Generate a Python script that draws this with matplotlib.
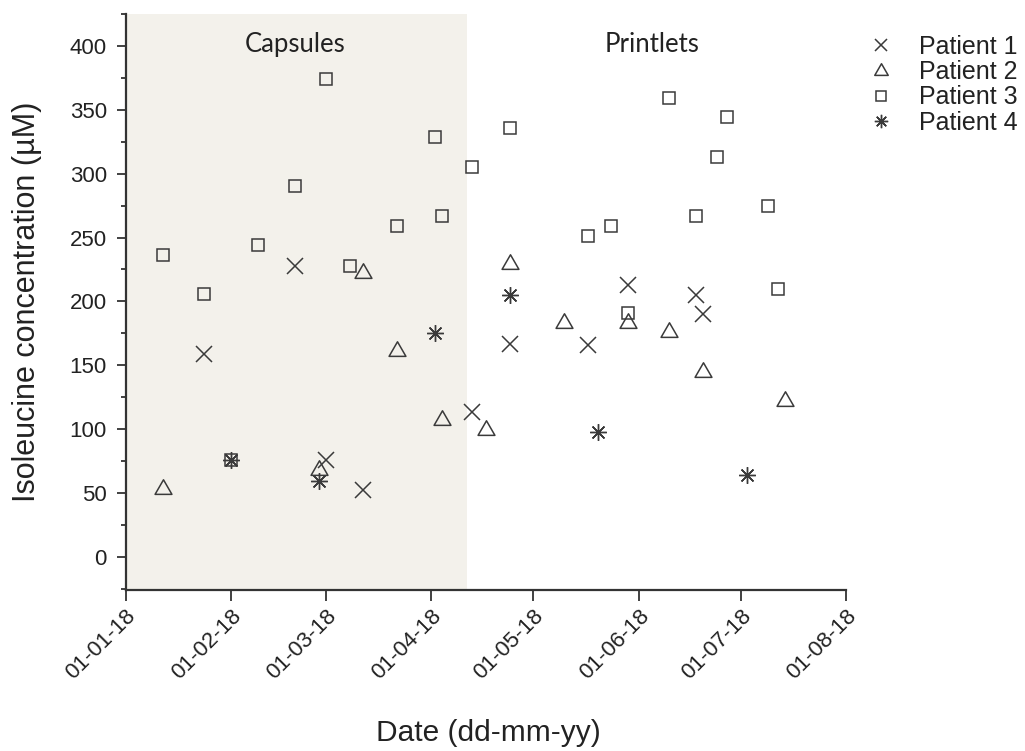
import matplotlib
matplotlib.use("Agg")
import matplotlib.pyplot as plt
import matplotlib.dates as mdates
from matplotlib.ticker import MultipleLocator
from matplotlib.path import Path
import pandas as pd

# ---------------- data ----------------
p1_dates = ["2018-01-24", "2018-02-20", "2018-03-01", "2018-03-12", "2018-04-13",
            "2018-04-24", "2018-05-17", "2018-05-29", "2018-06-18", "2018-06-20"]
p1_vals = [159, 228, 76, 52, 113, 167, 166, 213, 205, 190]

p2_dates = ["2018-01-12", "2018-02-27", "2018-03-12", "2018-03-22", "2018-04-04",
            "2018-04-17", "2018-04-24", "2018-05-10", "2018-05-29", "2018-06-10",
            "2018-06-20", "2018-07-14"]
p2_vals = [53, 68, 222, 161, 107, 99, 229, 183, 183, 176, 145, 122]

p3_dates = ["2018-01-12", "2018-01-24", "2018-02-01", "2018-02-09", "2018-02-20",
            "2018-03-01", "2018-03-08", "2018-03-22", "2018-04-02", "2018-04-04",
            "2018-04-13", "2018-04-24", "2018-05-17", "2018-05-24", "2018-05-29",
            "2018-06-10", "2018-06-18", "2018-06-24", "2018-06-27", "2018-07-09",
            "2018-07-12"]
p3_vals = [236, 206, 76, 244, 290, 374, 228, 259, 329, 267, 305, 336, 251, 259,
           191, 359, 267, 313, 344, 275, 210]

p4_dates = ["2018-02-01", "2018-02-27", "2018-04-02", "2018-04-24", "2018-05-20",
            "2018-07-03"]
p4_vals = [76, 59, 175, 205, 98, 64]

series_labels = ["Patient 1", "Patient 2", "Patient 3", "Patient 4"]
period_labels = ["Capsules", "Printlets"]
period_split = "2018-04-11 12:00"
x_start, x_end = "2018-01-01", "2018-08-01"
x_label = "Date (dd-mm-yy)"
y_label = "Isoleucine concentration (\u00b5M)"

# ---------------- figure ----------------
plt.rcParams['font.family'] = ['Liberation Sans', 'DejaVu Sans']
fig = plt.figure(figsize=(10.25, 7.51), dpi=100)
ax = fig.add_axes([125.5 / 1025, 1 - 590 / 751, (846 - 125.5) / 1025, (590 - 14) / 751])

ink = '#3a3a3a'
tri_v = [(0, 0.577), (-0.5, -0.289), (0.5, -0.289), (0, 0.577)]
tri = Path(tri_v, closed=True)
styles = [
    dict(marker='x', ms=11, mew=1.1),
    dict(marker=tri, ms=14, mew=1.1),
    dict(marker='s', ms=9.3, mew=1.1),
    dict(marker=(8, 2, 0), ms=12, mew=1.0),
]
all_dates = [p1_dates, p2_dates, p3_dates, p4_dates]
all_vals = [p1_vals, p2_vals, p3_vals, p4_vals]

ax.axvspan(pd.Timestamp(x_start), pd.Timestamp(period_split), color='#f3f1eb', zorder=0, lw=0)

for d, v, lab, st in zip(all_dates, all_vals, series_labels, styles):
    ax.plot(pd.to_datetime(d), v, linestyle='none', color=ink, mfc='none', mec=ink,
            label=lab, zorder=3, **st)

ax.set_xlim(pd.Timestamp(x_start), pd.Timestamp(x_end))
ax.set_ylim(-26, 425)
ax.yaxis.set_major_locator(MultipleLocator(50))
ax.yaxis.set_minor_locator(MultipleLocator(25))
ax.xaxis.set_major_locator(mdates.MonthLocator())
ax.xaxis.set_major_formatter(mdates.DateFormatter('%d-%m-%y'))

for s in ['top', 'right']:
    ax.spines[s].set_visible(False)
for s in ['left', 'bottom']:
    ax.spines[s].set_linewidth(1.6)
    ax.spines[s].set_color('#333333')

ax.tick_params(axis='y', which='major', direction='out', length=6.5, width=1.3,
               labelsize=16, pad=7, colors='#333333', labelcolor='#222222')
ax.tick_params(axis='y', which='minor', direction='out', length=3.5, width=1.3,
               colors='#333333')
ax.tick_params(axis='x', which='major', direction='out', length=8, width=1.3,
               labelsize=16, pad=3, colors='#333333', labelcolor='#222222')
for lbl in ax.get_xticklabels():
    lbl.set_rotation(45)
    lbl.set_ha('right')
    lbl.set_va('top')
    lbl.set_rotation_mode('anchor')

ax.set_xlabel(x_label, fontsize=21.5, color='#222222')
ax.set_ylabel(y_label, fontsize=22, color='#222222')
ax.xaxis.set_label_coords(0.503, -0.224)
ax.yaxis.set_label_coords(-0.116, 0.5)

ax.text(pd.Timestamp("2018-02-20"), 395, period_labels[0], ha='center', va='baseline',
        fontsize=18.5, family=['Lato', 'DejaVu Sans'], color='#222222')
ax.text(pd.Timestamp("2018-06-05"), 395, period_labels[1], ha='center', va='baseline',
        fontsize=18.5, family=['Lato', 'DejaVu Sans'], color='#222222')

fig.legend(loc='upper left', bbox_to_anchor=(865 / 1025, 1 - 35 / 751), frameon=False,
           fontsize=18, handlelength=1.3, handletextpad=0.85, labelspacing=0.05,
           borderpad=0, borderaxespad=0, markerscale=0.8, labelcolor='#222222')

fig.savefig("out.png", dpi=100)
